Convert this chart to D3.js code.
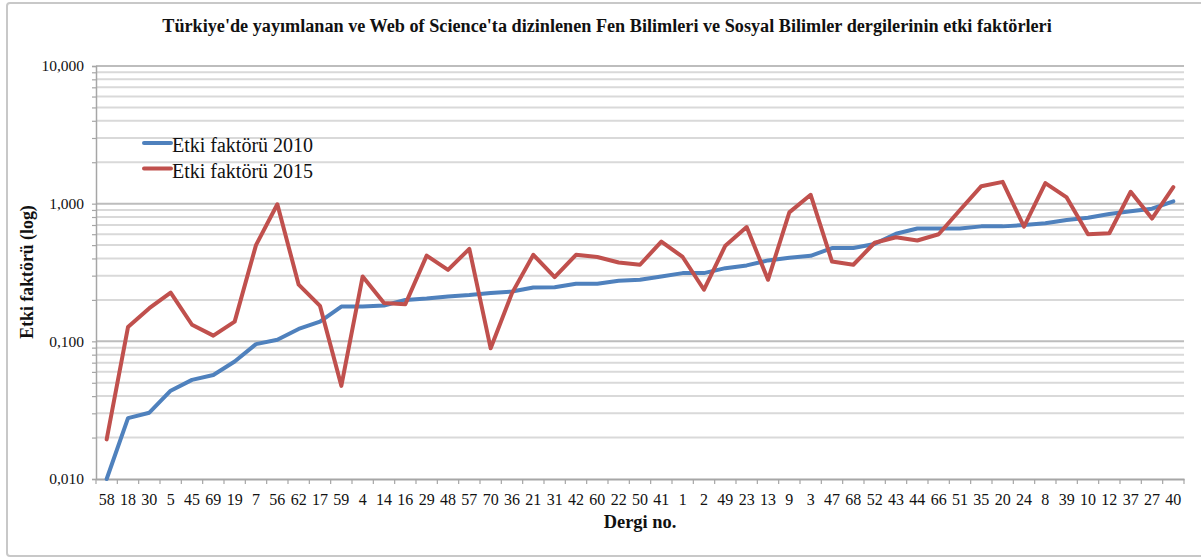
<!DOCTYPE html>
<html>
<head>
<meta charset="utf-8">
<script src="https://cdn.jsdelivr.net/npm/d3@7"></script>
<style>
  html, body { margin: 0; padding: 0; background: #fff; }
  svg { display: block; }
</style>
</head>
<body>
<svg id="chart" width="1201" height="558"></svg>
<script>
const categories = ["58","18","30","5","45","69","19","7","56","62","17","59","4","14","16","29","48","57","70","36","21","31","42","60","22","50","41","1","2","49","23","13","9","3","47","68","52","43","44","66","51","35","20","24","8","39","10","12","37","27","40"];

const impact2010 = [0.010,0.0277,0.0303,0.0438,0.0525,0.057,0.0713,0.0955,0.1026,0.123,0.139,0.179,0.179,0.182,0.200,0.205,0.212,0.217,0.224,0.230,0.246,0.247,0.262,0.262,0.275,0.280,0.296,0.313,0.313,0.340,0.356,0.387,0.405,0.418,0.476,0.476,0.510,0.605,0.660,0.660,0.660,0.684,0.684,0.700,0.720,0.760,0.790,0.840,0.880,0.920,1.040];

const impact2015 = [0.0194,0.127,0.174,0.226,0.132,0.110,0.139,0.500,0.990,0.258,0.181,0.0475,0.296,0.190,0.186,0.419,0.330,0.470,0.089,0.224,0.425,0.293,0.425,0.410,0.374,0.360,0.530,0.410,0.237,0.495,0.676,0.280,0.865,1.160,0.380,0.360,0.520,0.570,0.540,0.600,0.900,1.340,1.440,0.680,1.410,1.110,0.600,0.610,1.220,0.780,1.320];

const seriesNames = ["Etki faktörü 2010", "Etki faktörü 2015"];
const seriesColors = ["#4F81BD", "#C0504D"];
const yTickValues = [0.01, 0.1, 1, 10];
const yTickLabels = ["0,010", "0,100", "1,000", "10,000"];
const titleText = "Türkiye'de yayımlanan ve Web of Science'ta dizinlenen Fen Bilimleri ve Sosyal Bilimler dergilerinin etki faktörleri";
const xTitle = "Dergi no.";
const yTitle = "Etki faktörü (log)";

(function () {
const svg = d3.select("#chart");
const pL = 96, pR = 1184, pT = 66, pB = 479;
const serif = "'Liberation Serif', 'Times New Roman', serif";

// outer frame
svg.append("rect").attr("x", 7).attr("y", 3).attr("width", 1210).attr("height", 553)
  .attr("fill", "#fff").attr("stroke", "#c8c8c8").attr("stroke-width", 2).attr("rx", 3);

const x = d3.scaleBand().domain(categories).range([pL, pR]).padding(0);
const y = d3.scaleLog().domain([0.01, 10]).range([pB, pT]);

// gridlines
const allTicks = y.ticks();
const isMajor = v => Math.abs(Math.log10(v) - Math.round(Math.log10(v))) < 1e-9;
svg.append("g").selectAll("line").data(allTicks.filter(v => !isMajor(v))).join("line")
  .attr("x1", pL).attr("x2", pR)
  .attr("y1", d => y(d)).attr("y2", d => y(d))
  .attr("stroke", "#d9d9d9").attr("stroke-width", 2);
svg.append("g").selectAll("line").data(allTicks.filter(v => isMajor(v) && v > 0.01)).join("line")
  .attr("x1", pL).attr("x2", pR)
  .attr("y1", d => y(d)).attr("y2", d => y(d))
  .attr("stroke", "#bdbdbd").attr("stroke-width", 2);

// y axis
const yAxis = d3.axisLeft(y).tickValues(allTicks).tickSize(4)
  .tickFormat(d => { const i = yTickValues.findIndex(v => Math.abs(v - d) < 1e-9); return i >= 0 ? yTickLabels[i] : ""; });
const gy = svg.append("g").attr("transform", `translate(${pL},0)`).call(yAxis);
gy.select(".domain").attr("stroke", "#a6a6a6").attr("stroke-width", 1.5);
gy.selectAll(".tick line").attr("stroke", "#a6a6a6").attr("stroke-width", 1.2);
gy.selectAll(".tick text").attr("font-family", serif).attr("font-size", 15.5).attr("fill", "#111").attr("x", -12);

// x axis
const xAxis = d3.axisBottom(x).tickSize(0);
const gx = svg.append("g").attr("transform", `translate(0,${pB})`).call(xAxis);
gx.select(".domain").attr("stroke", "#a6a6a6").attr("stroke-width", 2);
gx.selectAll(".tick text").attr("font-family", serif).attr("font-size", 16).attr("fill", "#111").attr("dy", "0").attr("y", 26);
// boundary ticks
const boundaries = categories.map(c => x(c)).concat([pR]);
svg.append("g").selectAll("line").data(boundaries).join("line")
  .attr("x1", d => d).attr("x2", d => d).attr("y1", pB).attr("y2", pB + 5)
  .attr("stroke", "#a6a6a6").attr("stroke-width", 1.2);

// lines
const line = d3.line()
  .x((d, i) => x(categories[i]) + x.bandwidth() / 2)
  .y(d => y(d));
[impact2010, impact2015].forEach((s, k) => {
  svg.append("path").datum(s)
    .attr("d", line)
    .attr("fill", "none")
    .attr("stroke", seriesColors[k])
    .attr("stroke-width", 4)
    .attr("stroke-linejoin", "round")
    .attr("stroke-linecap", "round");
});

// legend
const lg = svg.append("g");
seriesNames.forEach((n, k) => {
  const ly = 143 + k * 25.5;
  lg.append("line").attr("x1", 144).attr("x2", 171).attr("y1", ly).attr("y2", ly)
    .attr("stroke", seriesColors[k]).attr("stroke-width", 4).attr("stroke-linecap", "round");
  lg.append("text").attr("x", 172).attr("y", ly + 9).text(n)
    .attr("font-family", serif).attr("font-size", 20).attr("fill", "#111");
});

// titles
svg.append("text").attr("x", 607).attr("y", 32).attr("text-anchor", "middle")
  .attr("font-family", serif).attr("font-weight", "bold").attr("font-size", 18.2).attr("fill", "#111")
  .text(titleText);
svg.append("text").attr("x", 640).attr("y", 528).attr("text-anchor", "middle")
  .attr("font-family", serif).attr("font-weight", "bold").attr("font-size", 18.4).attr("fill", "#111")
  .text(xTitle);
svg.append("text").attr("transform", `translate(33,272) rotate(-90)`).attr("text-anchor", "middle")
  .attr("font-family", serif).attr("font-weight", "bold").attr("font-size", 17.8).attr("fill", "#111")
  .text(yTitle);
})();
</script>
</body>
</html>
